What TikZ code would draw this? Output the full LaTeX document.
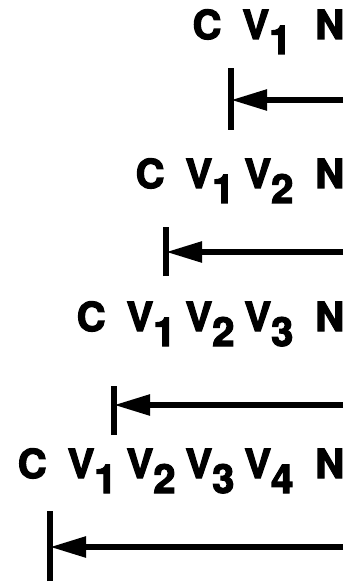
\documentclass[tikz,border=0pt]{standalone}
\usepackage{fontspec}
\setmainfont{TeX Gyre Heros}[BoldFeatures={FakeBold=3}]
\usetikzlibrary{arrows.meta}
\tikzset{>={Triangle[length=36pt,width=20pt]}}
\newcommand*{\vs}[1]{V\raisebox{-15pt}{#1}}
\newcommand*{\row}[1]{\fontsize{40}{44}\selectfont\bfseries #1}

\begin{document}
\begin{tikzpicture}[x=1pt,y=-1pt,line width=5.5pt,
  lbl/.style={anchor=base east,inner sep=0pt}]
\useasboundingbox (0,0) rectangle (351,585);
% rows of symbols
\node[lbl] (r1) at (347,39) {\row{C\hspace{21pt}\vs1\hspace{24pt}N}};
\node[lbl] (r2) at (347,188) {\row{C\hspace{21pt}\vs1\hspace{10pt}\vs2\hspace{22pt}N}};
\node[lbl] (r3) at (347,331) {\row{C\hspace{21pt}\vs1\hspace{10pt}\vs2\hspace{10pt}\vs3\hspace{22pt}N}};
\node[lbl] (r4) at (347,478) {\row{C\hspace{21pt}\vs1\hspace{10pt}\vs2\hspace{10pt}\vs3\hspace{10pt}\vs4\hspace{22pt}N}};
% arrows and stops
\coordinate (e1) at (343,100);
\coordinate (s1) at (231,100);
\draw[->] (e1) -- (s1);
\draw ([yshift=-30pt]s1) -- ([yshift=32pt]s1);
\coordinate (e2) at (343,252);
\coordinate (s2) at (166,252);
\draw[->] (e2) -- (s2);
\draw ([yshift=-24pt]s2) -- ([yshift=25pt]s2);
\coordinate (e3) at (343,405);
\coordinate (s3) at (114,405);
\draw[->] (e3) -- (s3);
\draw ([yshift=-30pt]s3) -- ([yshift=19pt]s3);
\coordinate (e4) at (343,547);
\coordinate (s4) at (50,547);
\draw[->] (e4) -- (s4);
\draw ([yshift=-34pt]s4) -- ([yshift=36pt]s4);
\end{tikzpicture}
\end{document}
